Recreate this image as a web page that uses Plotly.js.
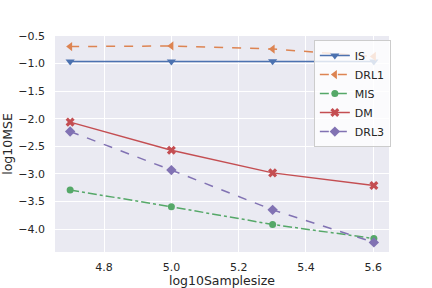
<!DOCTYPE html>
<html>
<head>
<meta charset="utf-8">
<script src="https://cdn.plot.ly/plotly-3.0.1.min.js"></script>
<style>html,body{margin:0;padding:0;background:#fff;}#chart{width:432px;height:288px;}</style>
</head>
<body>
<div id="chart"></div>
<script>
// Data
const xValues = [4.699, 5.0, 5.301, 5.602];
const seriesNames = ["IS", "DRL1", "MIS", "DM", "DRL3"];
const isValues   = [-0.96, -0.96, -0.955, -0.96];
const drl1Values = [-0.69, -0.68, -0.735, -0.87];
const misValues  = [-3.29, -3.595, -3.915, -4.17];
const dmValues   = [-2.06, -2.57, -2.98, -3.21];
const drl3Values = [-2.23, -2.93, -3.65, -4.24];
const xTicks = [4.8, 5.0, 5.2, 5.4, 5.6];
const yTicks = [-0.5, -1.0, -1.5, -2.0, -2.5, -3.0, -3.5, -4.0];

const styles = [
  {color: "#4C72B0", dash: "solid",   symbol: "triangle-down", size: 8},
  {color: "#DD8452", dash: "dash",    symbol: "triangle-left", size: 8},
  {color: "#55A868", dash: "dashdot", symbol: "circle",        size: 7},
  {color: "#C44E52", dash: "solid",   symbol: "x",             size: 8},
  {color: "#8172B3", dash: "dash",    symbol: "diamond",       size: 8}
];
const allValues = [isValues, drl1Values, misValues, dmValues, drl3Values];

const traces = allValues.map((vals, i) => ({
  x: xValues,
  y: vals,
  name: seriesNames[i],
  type: "scatter",
  mode: "lines+markers",
  line: {color: styles[i].color, width: 1.5, dash: styles[i].dash},
  marker: {color: styles[i].color, symbol: styles[i].symbol, size: styles[i].size, line: {width: 0}}
}));

const font = {family: "DejaVu Sans, sans-serif", color: "#262626"};

const layout = {
  width: 432, height: 288,
  margin: {l: 55, r: 43, t: 36, b: 36, pad: 0},
  paper_bgcolor: "#ffffff",
  plot_bgcolor: "#EAEAF2",
  font: Object.assign({size: 11}, font),
  showlegend: true,
  legend: {
    x: 0.775, y: 0.981, xanchor: "left", yanchor: "top",
    bgcolor: "rgba(255,255,255,0.8)", bordercolor: "#cccccc", borderwidth: 1,
    font: Object.assign({size: 11}, font),
    tracegroupgap: 0
  },
  xaxis: {
    range: [4.654, 5.647],
    tickvals: xTicks,
    ticktext: xTicks.map(v => v.toFixed(1)),
    showgrid: true, gridcolor: "#ffffff", gridwidth: 1,
    zeroline: false, showline: false, ticks: "",
    ticklabelstandoff: 7,
    tickfont: Object.assign({size: 11}, font),
    title: {text: "log10Samplesize", font: Object.assign({size: 12.5}, font), standoff: 9},
    automargin: false
  },
  yaxis: {
    range: [-4.414, -0.499],
    tickvals: yTicks,
    ticktext: yTicks.map(v => (v < 0 ? "\u2212" : "") + Math.abs(v).toFixed(1)),
    showgrid: true, gridcolor: "#ffffff", gridwidth: 1,
    zeroline: false, showline: false, ticks: "",
    ticklabelstandoff: 9,
    tickfont: Object.assign({size: 11}, font),
    title: {text: "log10MSE", font: Object.assign({size: 12.5}, font), standoff: 4},
    automargin: false
  }
};

Plotly.newPlot("chart", traces, layout, {displayModeBar: false, staticPlot: true});
</script>
</body>
</html>
